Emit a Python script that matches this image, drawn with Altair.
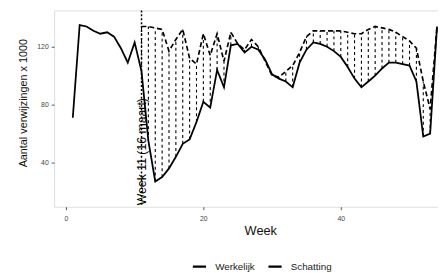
import altair as alt
import pandas as pd

# ---- data ----
weeks = list(range(1, 55))
werkelijk = [71, 135, 134, 131, 129, 130, 127, 119, 109, 123,
             103, 55, 27, 30, 36, 44, 53, 56, 68, 82,
             78, 104, 92, 121, 122, 116, 120, 118, 111, 101,
             98, 96, 92, 109, 118, 123, 122, 120, 117, 113,
             106, 98, 92, 96, 100, 105, 109, 109, 108, 107,
             96, 58, 60, 134]

schatting_weeks = list(range(11, 55))
schatting = [134, 134, 133, 132, 117, 125, 132, 112, 108, 129,
             114, 129, 110, 130, 122, 118, 125, 120, 110, 100,
             99, 103, 107, 116, 127, 131, 131, 131, 131, 131,
             130, 129, 129, 132, 134, 133, 132, 130, 127, 124,
             119, 96, 77, 134]

series_names = ["Werkelijk", "Schatting"]
x_ticks = [0, 20, 40]
y_ticks = [40, 80, 120]
lockdown_week = 11
lockdown_label = "Week 11 (16 maart)"

# ---- tables ----
act = dict(zip(weeks, werkelijk))
df_act = pd.DataFrame({"week": weeks, "value": werkelijk, "serie": "Werkelijk"})
df_est = pd.DataFrame({"week": schatting_weeks, "value": schatting, "serie": "Schatting"})
df_hatch = pd.DataFrame({
    "week": schatting_weeks,
    "lo": [act[w] for w in schatting_weeks],
    "hi": schatting,
})
df_vline = pd.DataFrame({"week": [lockdown_week]})
df_text = pd.DataFrame({"week": [lockdown_week + 0.15], "value": [10.5], "label": [lockdown_label]})

xscale = alt.Scale(domain=[-1.714, 54.143], nice=False, zero=False)
yscale = alt.Scale(domain=[9.5, 145.1], nice=False, zero=False)
xaxis = alt.Axis(values=x_ticks, title="Week", grid=False, domain=False, tickSize=3,
                 tickColor="#555555", labelFontSize=7, labelColor="#444444", labelPadding=5,
                 titleFontSize=13, titleFontWeight="normal", titleX=210, titleY=18,
                 titleColor="#111111")
yaxis = alt.Axis(values=y_ticks, title="Aantal verwijzingen x 1000", grid=False, domain=False,
                 tickSize=3, tickColor="#555555", labelFontSize=7, labelColor="#444444",
                 labelPadding=3, titleFontSize=11, titleFontWeight="normal",
                 titleX=-26, titleY=94, titleColor="#111111")

color_scale = alt.Scale(domain=series_names, range=["black", "black"])
legend = alt.Legend(title=None, orient="none", legendX=140, legendY=253,
                    direction="horizontal", symbolType="stroke", symbolDash=[1, 0],
                    symbolSize=180, symbolStrokeWidth=2.2, labelFontSize=10,
                    labelColor="#222222", labelOffset=8, columnPadding=8)

hatch = alt.Chart(df_hatch).mark_rule(color="black", strokeWidth=1.1, strokeDash=[3, 3]).encode(
    x=alt.X("week:Q", scale=xscale, axis=xaxis),
    y=alt.Y("lo:Q", scale=yscale, axis=yaxis),
    y2="hi:Q",
)

vline = alt.Chart(df_vline).mark_rule(color="black", strokeWidth=1.5, strokeDash=[2, 2]).encode(
    x=alt.X("week:Q", scale=xscale, axis=xaxis),
)

label = alt.Chart(df_text).mark_text(angle=270, align="left", baseline="middle",
                                     fontSize=12.5, color="black").encode(
    x=alt.X("week:Q", scale=xscale, axis=xaxis),
    y=alt.Y("value:Q", scale=yscale, axis=yaxis),
    text="label:N",
)

line_act = alt.Chart(df_act).mark_line(strokeWidth=1.8).encode(
    x=alt.X("week:Q", scale=xscale, axis=xaxis),
    y=alt.Y("value:Q", scale=yscale, axis=yaxis),
    color=alt.Color("serie:N", scale=color_scale, legend=legend),
)

line_est = alt.Chart(df_est).mark_line(strokeWidth=1.7, strokeDash=[5, 3]).encode(
    x=alt.X("week:Q", scale=xscale, axis=xaxis),
    y=alt.Y("value:Q", scale=yscale, axis=yaxis),
    color=alt.Color("serie:N", scale=color_scale, legend=legend),
)

chart = alt.layer(hatch, vline, label, line_act, line_est).properties(
    width=391, height=200,
    autosize=alt.AutoSizeParams(type="none"),
    padding={"left": 47, "top": 0, "right": 0, "bottom": 65},
    background="white",
).configure_view(stroke=None).configure(font="Liberation Sans")

chart.save("out.html", embed_options={"renderer": "svg", "actions": False})
